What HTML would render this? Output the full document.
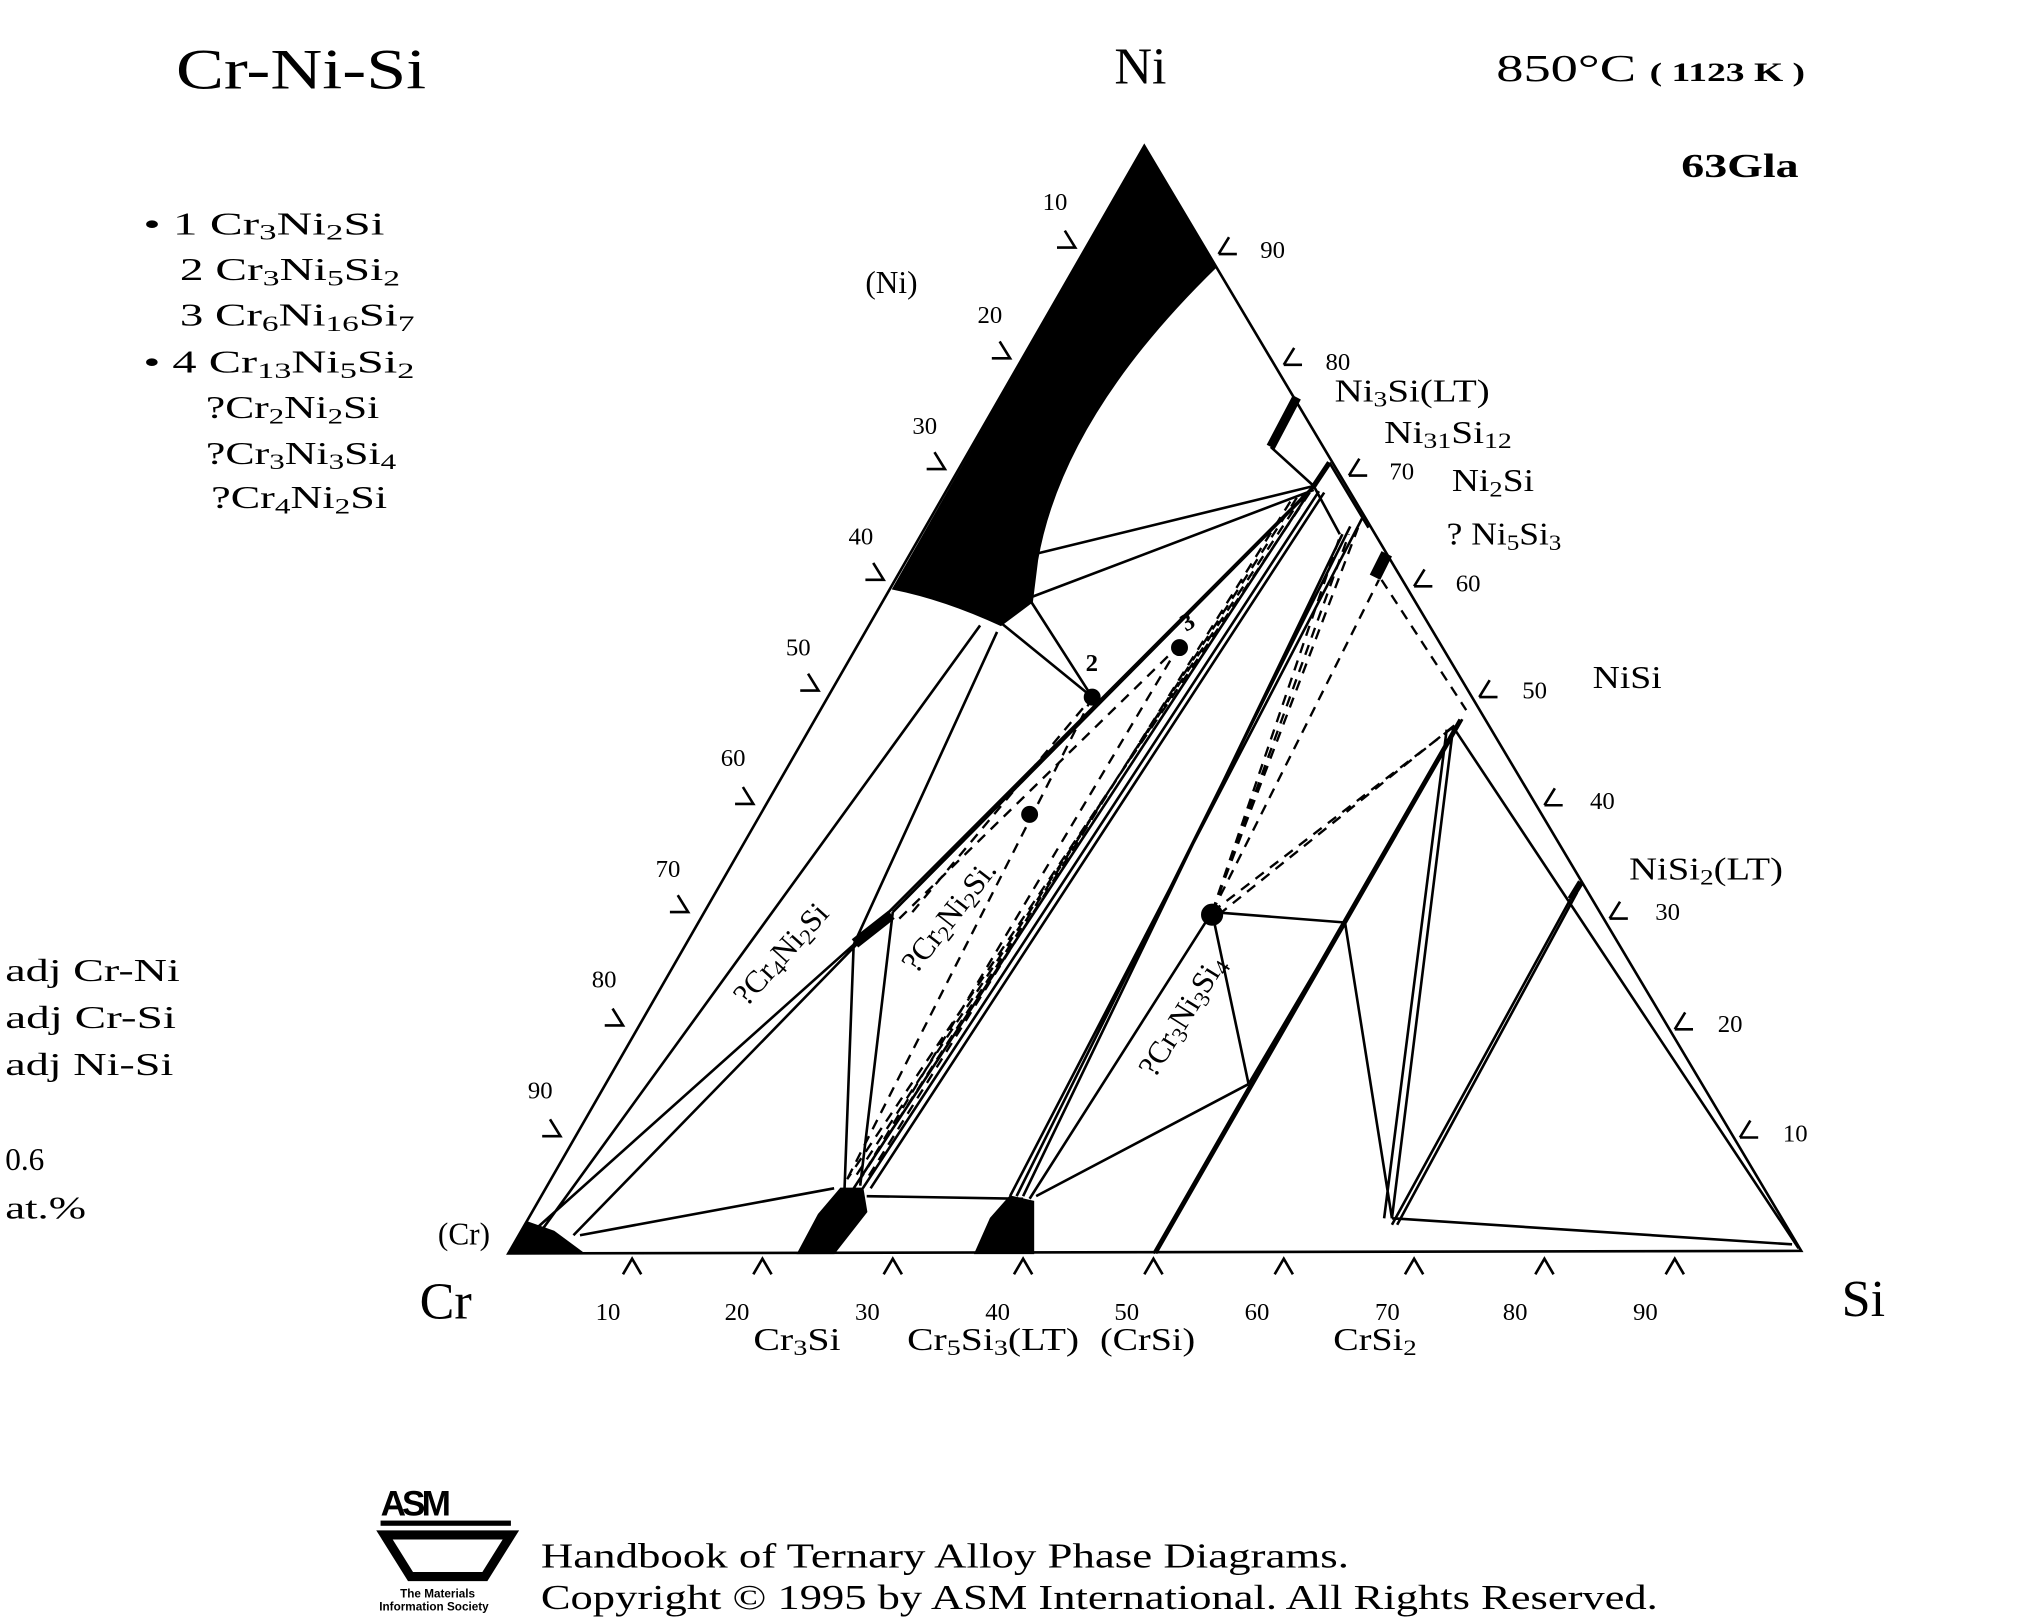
<!DOCTYPE html>
<html><head><meta charset="utf-8"><style>
html,body{margin:0;padding:0;background:#fff;}
svg{display:block;}
text{font-family:"Liberation Serif",serif;fill:#000;}
.s{font-size:24px;}
.t{font-size:19px;}
</style></head><body>
<svg width="2041" height="1617" viewBox="0 0 1566 1241" preserveAspectRatio="none" xmlns="http://www.w3.org/2000/svg">
<g fill="none" stroke="#000" stroke-width="2">
<polygon points="878,112 390,962 1382,960"/>
<path d="M811,190h14l-8,-13 M761,275h14l-8,-13 M711,360h14l-8,-13 M664,445h14l-8,-13 M614,530h14l-8,-13 M564,617h14l-8,-13 M514,700h14l-8,-13 M464,787h14l-8,-13 M416,872h14l-8,-13"/>
<path d="M935,195h14 M935,195l8,-13 M985,280h14 M985,280l8,-13 M1035,365h14 M1035,365l8,-13 M1085,450h14 M1085,450l8,-13 M1135,535h14 M1135,535l8,-13 M1185,618h14 M1185,618l8,-13 M1235,705h14 M1235,705l8,-13 M1285,790h14 M1285,790l8,-13 M1335,873h14 M1335,873l8,-13"/>
<path d="M478,978l7,-12l7,12 M578,978l7,-12l7,12 M678,978l7,-12l7,12 M778,978l7,-12l7,12 M878,978l7,-12l7,12 M978,978l7,-12l7,12 M1078,978l7,-12l7,12 M1178,978l7,-12l7,12 M1278,978l7,-12l7,12"/>
<path d="M795,425L1008,373 M792,458L1008,376 M975,343L1008,373 M768,478L838,535 M790,460L838,535
M752,480L410,952 M765,485L655,725 M390,962L655,725 M440,948L660,722 M445,948L640,912
M655,725L648,912 M685,700L660,910 M660,722L1008,373 M685,700L1010,372
M655,912L1005,377 M662,912L1012,377 M668,912L1016,378
M1020,355L1050,405 M1008,373L1028,410
M1045,398L775,918 M1030,410L785,918 M1036,404L780,918
M930,700L790,920 M958,832L795,918 M885,962L1120,552 M887,962L1122,552
M930,700L1032,708 M1032,708L1068,935 M930,700L958,832 M958,832L1030,710
M1068,935L1115,558 M1062,935L1110,560 M1115,558L1380,958 M1205,690L1068,940 M1210,685L1072,940
M665,918L785,920 M1068,935L1375,955"/>
</g>
<g fill="none" stroke="#000" stroke-width="1.8" stroke-dasharray="8,6">
<path d="M1005,378L650,905 M1000,380L655,905 M995,382L660,905 M990,385L665,905 M838,535L650,905 M905,495L660,905
M685,700L1005,377 M690,705L905,495 M700,700L838,535
M930,700L1028,412 M930,700L1035,410 M930,700L1042,405 M930,700L1058,445 M930,700L1115,558 M935,702L1118,555
M1060,445L1125,545"/>
</g>
<g fill="#000" stroke="#000">
<path d="M878,112 L933,205 Q815,320 796,430 L792,462 L768,480 Q725,460 685,452 Z"/>
<polygon points="390,962 448,962 425,945 405,938"/>
<polygon points="612,962 640,962 665,930 662,912 645,912 628,932"/>
<polygon points="748,962 793,962 793,922 775,918 760,935"/>
<path d="M975,343L995,305" stroke-width="7"/>
<path d="M1055,443L1064,425" stroke-width="9"/>
<path d="M656,724L684,702" stroke-width="8"/>
<path d="M1205,690L1213,677" stroke-width="5"/>
<path d="M1008,373L1020,355" stroke-width="4"/>
<circle cx="838" cy="535" r="6"/><circle cx="905" cy="497" r="6"/><circle cx="790" cy="625" r="6"/><circle cx="930" cy="702" r="8"/>
</g>
<g lengthAdjust="spacingAndGlyphs">
<text x="135" y="68" font-size="44" textLength="192" lengthAdjust="spacingAndGlyphs">Cr-Ni-Si</text>
<text x="855" y="64" font-size="40">Ni</text>
<text x="1148" y="62" font-size="29" textLength="237" lengthAdjust="spacingAndGlyphs">850°C <tspan font-size="20" font-weight="bold">( 1123  K )</tspan></text>
<text x="1290" y="136" font-size="26" font-weight="bold" textLength="90" lengthAdjust="spacingAndGlyphs">63Gla</text>
<text x="322" y="1012" font-size="40">Cr</text>
<text x="1413" y="1010" font-size="40">Si</text>
</g>
<g class="s">
<text x="110" y="180" textLength="185" lengthAdjust="spacingAndGlyphs">•  1  Cr<tspan font-size="17" dy="4">3</tspan><tspan dy="-4">Ni</tspan><tspan font-size="17" dy="4">2</tspan><tspan dy="-4">Si</tspan></text>
<text x="138" y="215" textLength="169" lengthAdjust="spacingAndGlyphs">2  Cr<tspan font-size="17" dy="4">3</tspan><tspan dy="-4">Ni</tspan><tspan font-size="17" dy="4">5</tspan><tspan dy="-4">Si</tspan><tspan font-size="17" dy="4">2</tspan></text>
<text x="138" y="250" textLength="180" lengthAdjust="spacingAndGlyphs">3  Cr<tspan font-size="17" dy="4">6</tspan><tspan dy="-4">Ni</tspan><tspan font-size="17" dy="4">16</tspan><tspan dy="-4">Si</tspan><tspan font-size="17" dy="4">7</tspan></text>
<text x="110" y="286" textLength="208" lengthAdjust="spacingAndGlyphs">•  4  Cr<tspan font-size="17" dy="4">13</tspan><tspan dy="-4">Ni</tspan><tspan font-size="17" dy="4">5</tspan><tspan dy="-4">Si</tspan><tspan font-size="17" dy="4">2</tspan></text>
<text x="158" y="321" textLength="133" lengthAdjust="spacingAndGlyphs">?Cr<tspan font-size="17" dy="4">2</tspan><tspan dy="-4">Ni</tspan><tspan font-size="17" dy="4">2</tspan><tspan dy="-4">Si</tspan></text>
<text x="158" y="356" textLength="146" lengthAdjust="spacingAndGlyphs">?Cr<tspan font-size="17" dy="4">3</tspan><tspan dy="-4">Ni</tspan><tspan font-size="17" dy="4">3</tspan><tspan dy="-4">Si</tspan><tspan font-size="17" dy="4">4</tspan></text>
<text x="162" y="390" textLength="135" lengthAdjust="spacingAndGlyphs">?Cr<tspan font-size="17" dy="4">4</tspan><tspan dy="-4">Ni</tspan><tspan font-size="17" dy="4">2</tspan><tspan dy="-4">Si</tspan></text>
<text x="4" y="753" textLength="134" lengthAdjust="spacingAndGlyphs">adj  Cr-Ni</text>
<text x="4" y="789" textLength="131" lengthAdjust="spacingAndGlyphs">adj  Cr-Si</text>
<text x="4" y="825" textLength="129" lengthAdjust="spacingAndGlyphs">adj  Ni-Si</text>
<text x="4" y="898">0.6</text>
<text x="4" y="935" textLength="62" lengthAdjust="spacingAndGlyphs">at.%</text>
<text x="664" y="225">(Ni)</text>
<text x="336" y="955">(Cr)</text>
<text x="1024" y="308" textLength="119" lengthAdjust="spacingAndGlyphs">Ni<tspan font-size="17" dy="4">3</tspan><tspan dy="-4">Si(LT)</tspan></text>
<text x="1062" y="340" textLength="98" lengthAdjust="spacingAndGlyphs">Ni<tspan font-size="17" dy="4">31</tspan><tspan dy="-4">Si</tspan><tspan font-size="17" dy="4">12</tspan></text>
<text x="1114" y="377" textLength="63" lengthAdjust="spacingAndGlyphs">Ni<tspan font-size="17" dy="4">2</tspan><tspan dy="-4">Si</tspan></text>
<text x="1110" y="418" textLength="88" lengthAdjust="spacingAndGlyphs">? Ni<tspan font-size="17" dy="4">5</tspan><tspan dy="-4">Si</tspan><tspan font-size="17" dy="4">3</tspan></text>
<text x="1222" y="528" textLength="53" lengthAdjust="spacingAndGlyphs">NiSi</text>
<text x="1250" y="675" textLength="118" lengthAdjust="spacingAndGlyphs">NiSi<tspan font-size="17" dy="4">2</tspan><tspan dy="-4">(LT)</tspan></text>
<text x="578" y="1036" textLength="67" lengthAdjust="spacingAndGlyphs">Cr<tspan font-size="17" dy="4">3</tspan><tspan dy="-4">Si</tspan></text>
<text x="696" y="1036" textLength="132" lengthAdjust="spacingAndGlyphs">Cr<tspan font-size="17" dy="4">5</tspan><tspan dy="-4">Si</tspan><tspan font-size="17" dy="4">3</tspan><tspan dy="-4">(LT)</tspan></text>
<text x="844" y="1036" textLength="73" lengthAdjust="spacingAndGlyphs">(CrSi)</text>
<text x="1023" y="1036" textLength="64" lengthAdjust="spacingAndGlyphs">CrSi<tspan font-size="17" dy="4">2</tspan></text>
<text transform="translate(573,773) rotate(-48)">?Cr<tspan font-size="17" dy="4">4</tspan><tspan dy="-4">Ni</tspan><tspan font-size="17" dy="4">2</tspan><tspan dy="-4">Si</tspan></text>
<text transform="translate(703,748) rotate(-52)">?Cr<tspan font-size="17" dy="4">2</tspan><tspan dy="-4">Ni</tspan><tspan font-size="17" dy="4">2</tspan><tspan dy="-4">Si.</tspan></text>
<text transform="translate(886,828) rotate(-58)">?Cr<tspan font-size="17" dy="4">3</tspan><tspan dy="-4">Ni</tspan><tspan font-size="17" dy="4">3</tspan><tspan dy="-4">Si</tspan><tspan font-size="17" dy="4">4</tspan></text>
</g>
<g class="t">
<text x="833" y="515" font-weight="bold">2</text>
<text x="910" y="485" font-weight="bold" transform="rotate(-30 910 485)">3</text>
<text x="800" y="161">10</text><text x="750" y="248">20</text><text x="700" y="333">30</text><text x="651" y="418">40</text><text x="603" y="503">50</text><text x="553" y="588">60</text><text x="503" y="673">70</text><text x="454" y="758">80</text><text x="405" y="843">90</text>
<text x="967" y="198">90</text><text x="1017" y="284">80</text><text x="1066" y="368">70</text><text x="1117" y="454">60</text><text x="1168" y="536">50</text><text x="1220" y="621">40</text><text x="1270" y="706">30</text><text x="1318" y="792">20</text><text x="1368" y="876">10</text>
<text x="457" y="1013">10</text><text x="556" y="1013">20</text><text x="656" y="1013">30</text><text x="756" y="1013">40</text><text x="855" y="1013">50</text><text x="955" y="1013">60</text><text x="1055" y="1013">70</text><text x="1153" y="1013">80</text><text x="1253" y="1013">90</text>
</g>
<text x="292" y="1163" font-size="27" font-weight="bold" style="font-family:'Liberation Sans',sans-serif" letter-spacing="-3">ASM</text>
<rect x="292" y="1167" width="100" height="4" fill="#000"/>
<path d="M295,1178L392,1178L372,1210L315,1210Z" fill="none" stroke="#000" stroke-width="7"/>
<text x="307" y="1226" font-size="9" style="font-family:'Liberation Sans',sans-serif" font-weight="bold">The Materials</text>
<text x="291" y="1236" font-size="9" style="font-family:'Liberation Sans',sans-serif" font-weight="bold">Information Society</text>
<text x="415" y="1203" font-size="27" textLength="620" lengthAdjust="spacingAndGlyphs">Handbook of Ternary Alloy Phase Diagrams.</text>
<text x="415" y="1235" font-size="27" textLength="857" lengthAdjust="spacingAndGlyphs">Copyright © 1995 by ASM International. All Rights Reserved.</text>
</svg>
</body></html>
